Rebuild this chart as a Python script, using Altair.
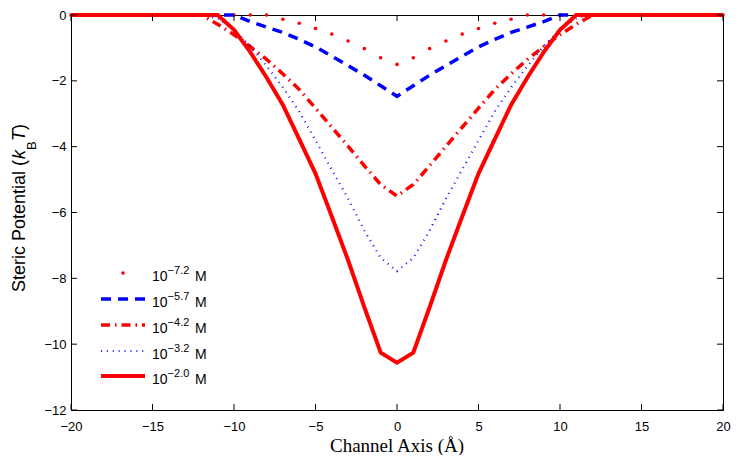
import altair as alt
import pandas as pd

# ---------------- data ----------------
x_vals = list(range(-20, 21))

series_names = ["1e-7.2", "1e-5.7", "1e-4.2", "1e-3.2", "1e-2.0"]
exponents = ["\u22127.2", "\u22125.7", "\u22124.2", "\u22123.2", "\u22122.0"]

pot_m72 = [0, 0, 0, 0, 0, 0, 0, 0, 0, 0, 0, 0, 0,
           -0.13, -0.25, -0.41, -0.58, -0.79, -1.02, -1.30, -1.50,
           -1.30, -1.02, -0.79, -0.58, -0.41, -0.25, -0.13,
           0, 0, 0, 0, 0, 0, 0, 0, 0, 0, 0, 0, 0]
pot_m57 = [0, 0, 0, 0, 0, 0, 0, 0, 0, 0, 0,
           -0.20, -0.37, -0.53, -0.74, -0.97, -1.25, -1.54, -1.83, -2.15, -2.47,
           -2.15, -1.83, -1.54, -1.25, -0.97, -0.74, -0.53, -0.37, -0.20,
           0, 0, 0, 0, 0, 0, 0, 0, 0, 0, 0]
pot_m42 = [0, 0, 0, 0, 0, 0, 0, 0, 0,
           -0.28, -0.60, -0.96, -1.35, -1.79, -2.26, -2.83, -3.41, -3.99, -4.58, -5.15, -5.50,
           -5.15, -4.58, -3.99, -3.41, -2.83, -2.26, -1.79, -1.35, -0.96, -0.60, -0.28,
           0, 0, 0, 0, 0, 0, 0, 0, 0]
pot_m32 = [0, 0, 0, 0, 0, 0, 0, 0, 0,
           -0.10, -0.45, -0.95, -1.55, -2.20, -2.93, -3.81, -4.70, -5.58, -6.55, -7.38, -7.78,
           -7.38, -6.55, -5.58, -4.70, -3.81, -2.93, -2.20, -1.55, -0.95, -0.45, -0.10,
           0, 0, 0, 0, 0, 0, 0, 0, 0]
pot_m20 = [0, 0, 0, 0, 0, 0, 0, 0, 0, 0,
           -0.45, -1.13, -1.90, -2.73, -3.77, -4.82, -6.12, -7.45, -8.88, -10.26, -10.56,
           -10.26, -8.88, -7.45, -6.12, -4.82, -3.77, -2.73, -1.90, -1.13, -0.45,
           0, 0, 0, 0, 0, 0, 0, 0, 0, 0]

x_ticks = [-20, -15, -10, -5, 0, 5, 10, 15, 20]
y_ticks = [0, -2, -4, -6, -8, -10, -12]

# ---------------- layout / style ----------------
W, H = 652, 395
PAD_L, PAD_T, PAD_R, PAD_B = 63, 7, 8, 45
RED, BLUE = "#ff0000", "#0000ff"
SANS = "Liberation Sans"

x_scale = alt.Scale(domain=[-20, 20], nice=False, zero=False)
y_scale = alt.Scale(domain=[-12, 0], nice=False, zero=False)
x_axis = alt.Axis(values=x_ticks, title=None, ticks=False, tickSize=0, labelPadding=10,
                  labelFontSize=13, labelFont=SANS, labelColor="black", labelFlush=False,
                  labelOverlap=False, domainColor="black", domainWidth=1, grid=False, format="d")
y_axis = alt.Axis(values=y_ticks, title=None, ticks=False, tickSize=0, labelPadding=5,
                  labelFontSize=13, labelFont=SANS, labelColor="black",
                  labelOverlap=False, domainColor="black", domainWidth=1, grid=False, format="d")

X = alt.X("x:Q", scale=x_scale, axis=x_axis)
Y = alt.Y("y:Q", scale=y_scale, axis=y_axis)

one = pd.DataFrame({"a": [0]})

layers = []

# dots series
df_dots = pd.DataFrame({"x": x_vals, "y": pot_m72})
layers.append(alt.Chart(df_dots).mark_circle(size=13, color=RED, opacity=1).encode(x=X, y=Y))

line_styles = [
    (pot_m57, BLUE, 3.5, [10, 7]),
    (pot_m42, RED, 3.5, [9, 5, 1.5, 5]),
    (pot_m32, BLUE, 2.2, [0.9, 5]),
    (pot_m20, RED, 4, None),
]
for vals, col, sw, dash in line_styles:
    d = pd.DataFrame({"x": x_vals, "y": vals})
    kw = dict(color=col, strokeWidth=sw)
    if dash is not None:
        kw["strokeDash"] = dash
    layers.append(alt.Chart(d).mark_line(**kw).encode(x=X, y=Y))

# inward ticks on all four sides
df_xt = pd.DataFrame({"x": x_ticks})
df_yt = pd.DataFrame({"y": y_ticks})
layers.append(alt.Chart(df_xt).mark_rule(color="black", strokeWidth=1).encode(
    x=X, y=alt.value(H), y2=alt.value(H - 6)))
layers.append(alt.Chart(df_xt).mark_rule(color="black", strokeWidth=1).encode(
    x=X, y=alt.value(0), y2=alt.value(6)))
layers.append(alt.Chart(df_yt).mark_rule(color="black", strokeWidth=1).encode(
    y=Y, x=alt.value(0), x2=alt.value(6)))
layers.append(alt.Chart(df_yt).mark_rule(color="black", strokeWidth=1).encode(
    y=Y, x=alt.value(W), x2=alt.value(W - 6)))

# legend
rows = [258, 284, 310, 336, 361]
lx0, lx1 = 30, 74
layers.append(alt.Chart(one).mark_circle(size=13, color=RED, opacity=1).encode(
    x=alt.value((lx0 + lx1) / 2), y=alt.value(rows[0])))
for (vals, col, sw, dash), ry in zip(line_styles, rows[1:]):
    kw = dict(color=col, strokeWidth=sw)
    if dash is not None:
        kw["strokeDash"] = dash
    layers.append(alt.Chart(one).mark_rule(**kw).encode(
        x=alt.value(lx0), x2=alt.value(lx1), y=alt.value(ry)))

tx = 81
for ex, ry in zip(exponents, rows):
    layers.append(alt.Chart(one).mark_text(text="10", font=SANS, fontSize=14, align="left",
                                           baseline="alphabetic", color="black").encode(
        x=alt.value(tx), y=alt.value(ry + 8)))
    layers.append(alt.Chart(one).mark_text(text=ex, font=SANS, fontSize=11, align="left",
                                           baseline="alphabetic", color="black").encode(
        x=alt.value(tx + 15.6), y=alt.value(ry + 1)))
    layers.append(alt.Chart(one).mark_text(text="M", font=SANS, fontSize=14, align="left",
                                           baseline="alphabetic", color="black").encode(
        x=alt.value(tx + 43), y=alt.value(ry + 8)))

# x title
layers.append(alt.Chart(one).mark_text(text="Channel Axis (\u00c5)", font="Liberation Serif",
                                       fontSize=19, align="center", baseline="alphabetic",
                                       color="black").encode(
    x=alt.value(W / 2), y=alt.value(437)))

# y title (rotated pieces)
bx = -46
layers.append(alt.Chart(one).mark_text(text="Steric Potential (", font=SANS, fontSize=18,
                                       angle=270, align="left", baseline="alphabetic",
                                       color="black").encode(
    x=alt.value(bx), y=alt.value(277)))
layers.append(alt.Chart(one).mark_text(text="k", font=SANS, fontSize=18, fontStyle="italic",
                                       angle=270, align="left", baseline="alphabetic",
                                       color="black").encode(
    x=alt.value(bx), y=alt.value(144)))
layers.append(alt.Chart(one).mark_text(text="B", font=SANS, fontSize=13,
                                       angle=270, align="left", baseline="alphabetic",
                                       color="black").encode(
    x=alt.value(bx + 11), y=alt.value(135)))
layers.append(alt.Chart(one).mark_text(text="T", font=SANS, fontSize=18, fontStyle="italic",
                                       angle=270, align="left", baseline="alphabetic",
                                       color="black").encode(
    x=alt.value(bx), y=alt.value(126)))
layers.append(alt.Chart(one).mark_text(text=")", font=SANS, fontSize=18,
                                       angle=270, align="left", baseline="alphabetic",
                                       color="black").encode(
    x=alt.value(bx), y=alt.value(115)))

chart = alt.layer(*layers).properties(
    width=W, height=H,
    padding={"left": PAD_L, "top": PAD_T, "right": PAD_R, "bottom": PAD_B},
    autosize=alt.AutoSizeParams(type="none"),
    background="white",
).configure_view(stroke="black", strokeWidth=1)

chart.save("out.html", embed_options={"renderer": "svg", "actions": False})
